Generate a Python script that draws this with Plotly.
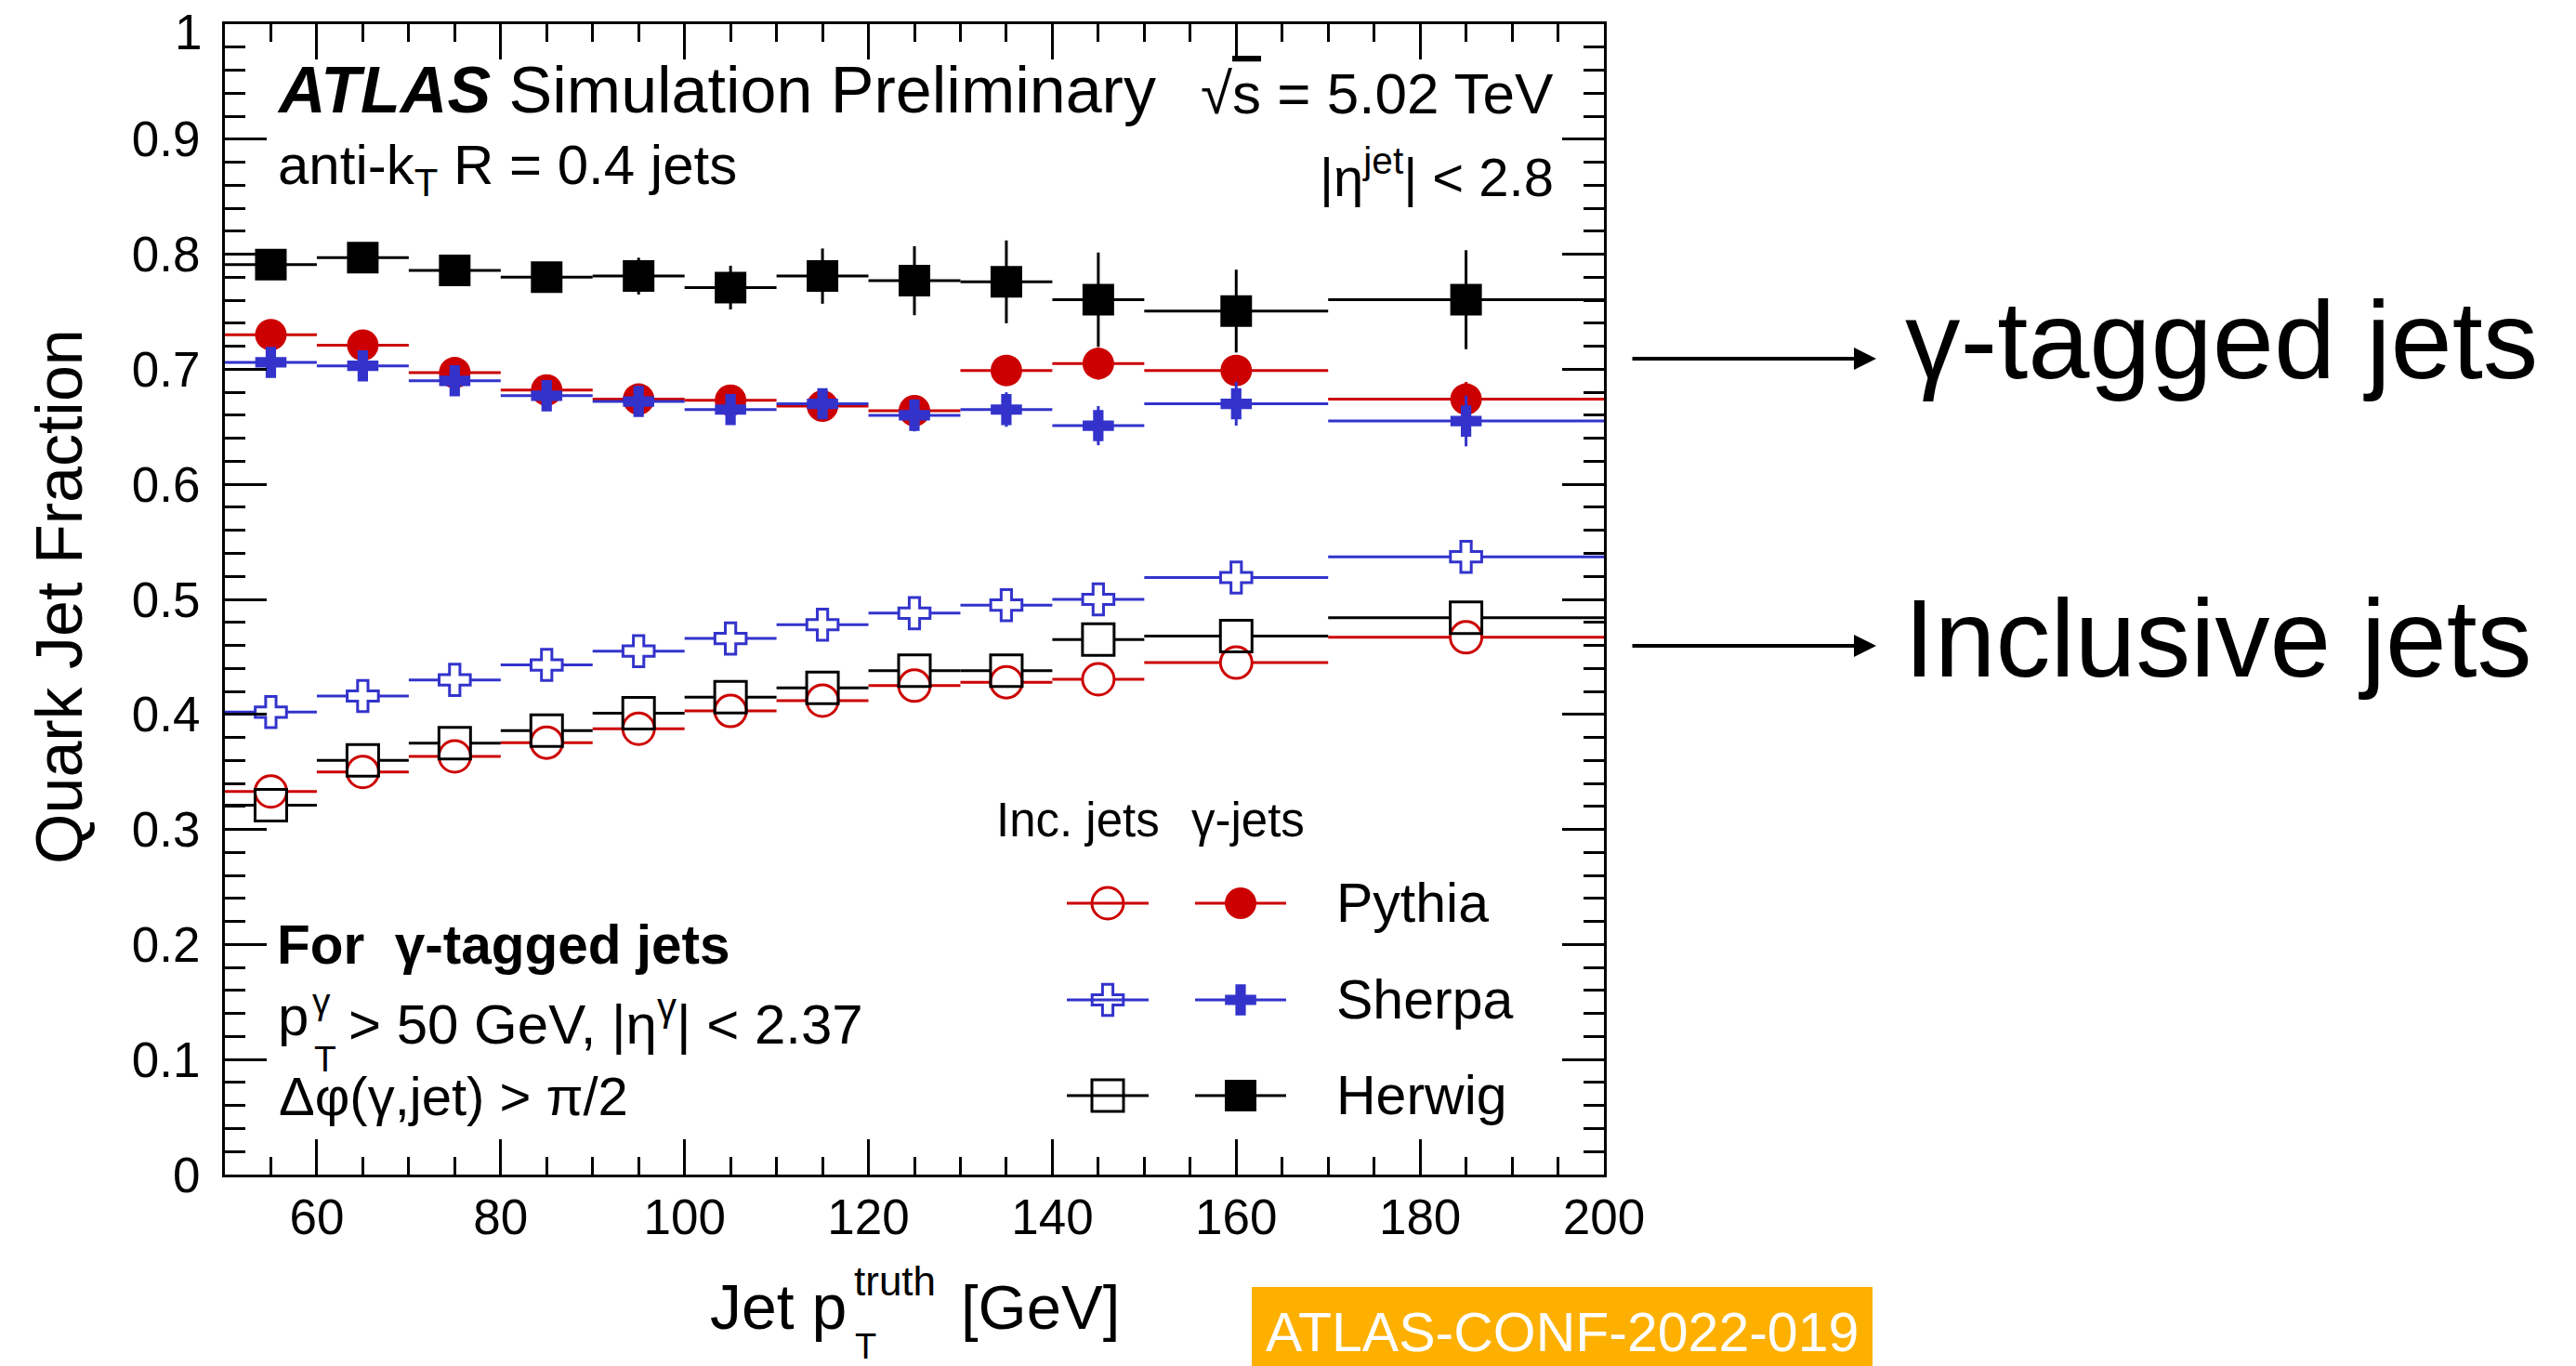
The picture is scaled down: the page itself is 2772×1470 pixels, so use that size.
import plotly.graph_objects as go

# ---------------- data ----------------
pt_centers = [55, 65, 75, 85, 95, 105, 115, 125, 135, 145, 160, 185]
pt_halfwidth = [5, 5, 5, 5, 5, 5, 5, 5, 5, 5, 10, 15]

# gamma-tagged jets (filled markers)
pythia_gamma = [0.730, 0.721, 0.697, 0.682, 0.674, 0.673, 0.668, 0.664, 0.699, 0.705, 0.699, 0.674]
pythia_gamma_err = [0.004, 0.004, 0.004, 0.005, 0.005, 0.006, 0.007, 0.008, 0.010, 0.014, 0.012, 0.015]
sherpa_gamma = [0.706, 0.703, 0.690, 0.677, 0.672, 0.665, 0.670, 0.660, 0.665, 0.651, 0.670, 0.655]
sherpa_gamma_err = [0.008, 0.008, 0.009, 0.010, 0.010, 0.011, 0.013, 0.014, 0.015, 0.017, 0.019, 0.022]
herwig_gamma = [0.791, 0.797, 0.786, 0.780, 0.781, 0.771, 0.781, 0.777, 0.776, 0.7605, 0.7506, 0.7605]
herwig_gamma_err = [0.006, 0.007, 0.009, 0.010, 0.016, 0.019, 0.024, 0.030, 0.036, 0.041, 0.036, 0.043]

# inclusive jets (open markers)
pythia_inc = [0.333, 0.350, 0.3635, 0.3755, 0.3875, 0.403, 0.412, 0.425, 0.428, 0.4305, 0.445, 0.467]
sherpa_inc = [0.402, 0.416, 0.430, 0.443, 0.455, 0.466, 0.478, 0.488, 0.495, 0.500, 0.519, 0.537]
herwig_inc = [0.321, 0.360, 0.375, 0.386, 0.401, 0.415, 0.423, 0.438, 0.438, 0.465, 0.468, 0.484]

x_tick_vals = [60, 80, 100, 120, 140, 160, 180, 200]
x_tick_text = ["60", "80", "100", "120", "140", "160", "180", "200"]
y_tick_vals = [0, 0.1, 0.2, 0.3, 0.4, 0.5, 0.6, 0.7, 0.8, 0.9, 1.0]
y_tick_text = ["0", "0.1", "0.2", "0.3", "0.4", "0.5", "0.6", "0.7", "0.8", "0.9", "1"]

generators = ["Pythia", "Sherpa", "Herwig"]

# ---------------- style / layout ----------------
W, H = 2772, 1470
PX_L, PX_R, PX_T, PX_B = 242, 1726, 26, 1264
FONT = "Liberation Sans, Arial, Helvetica, sans-serif"
RED = "#CC0000"
BLUE = "#3333CC"
BLACK = "#000000"
ORANGE = "#FDB000"
MARKER = 34
CROSS = 28
LW = 3
X_RANGE = [50, 200]
Y_RANGE = [0, 1]
GAP_PX = 17  # open-marker half size: error bars stop at the marker edge


def px(xp):
    return (xp - PX_L) / (PX_R - PX_L)


def py(yp):
    return (PX_B - yp) / (PX_B - PX_T)


gap = GAP_PX * (X_RANGE[1] - X_RANGE[0]) / (PX_R - PX_L)

fig = go.Figure()


def open_series(vals, color, symbol, size):
    xs, ys = [], []
    for c, h, v in zip(pt_centers, pt_halfwidth, vals):
        xs += [c - h, c - gap, None, c + gap, c + h, None]
        ys += [v, v, None, v, v, None]
    fig.add_trace(go.Scatter(x=xs, y=ys, mode="lines", line=dict(color=color, width=LW),
                             showlegend=False, hoverinfo="skip"))
    fig.add_trace(go.Scatter(x=pt_centers, y=vals, mode="markers",
                             marker=dict(symbol=symbol, size=size, color=color,
                                         line=dict(color=color, width=LW)),
                             showlegend=False))


def filled_series(vals, errs, color, symbol, size):
    fig.add_trace(go.Scatter(
        x=pt_centers, y=vals, mode="markers",
        marker=dict(symbol=symbol, size=size, color=color, line=dict(width=0)),
        error_x=dict(type="data", array=pt_halfwidth, symmetric=True, width=0, thickness=LW, color=color),
        error_y=dict(type="data", array=errs, symmetric=True, width=0, thickness=LW, color=color),
        showlegend=False))


open_series(pythia_inc, RED, "circle-open", MARKER)
open_series(sherpa_inc, BLUE, "cross-open", CROSS)
open_series(herwig_inc, BLACK, "square-open", MARKER)
filled_series(pythia_gamma, pythia_gamma_err, RED, "circle", MARKER)
filled_series(sherpa_gamma, sherpa_gamma_err, BLUE, "cross", CROSS)
filled_series(herwig_gamma, herwig_gamma_err, BLACK, "square", MARKER)

# ---------------- hand-made legend (overlay axis in paper fractions) ----------------
leg_rows_y = [972, 1076, 1179]
leg_open_x, leg_fill_x = 1192, 1335
leg_open_span = (1148, 1236)
leg_fill_span = (1286, 1384)
leg_styles = [(RED, "circle", MARKER), (BLUE, "cross", CROSS), (BLACK, "square", MARKER)]
for (color, sym, size), ry in zip(leg_styles, leg_rows_y):
    for (a, b) in (leg_open_span, leg_fill_span):
        fig.add_trace(go.Scatter(x=[px(a), px(b)], y=[py(ry), py(ry)], mode="lines",
                                 line=dict(color=color, width=LW), xaxis="x2", yaxis="y2",
                                 showlegend=False, hoverinfo="skip"))
    fig.add_trace(go.Scatter(x=[px(leg_open_x)], y=[py(ry)], mode="markers", xaxis="x2", yaxis="y2",
                             marker=dict(symbol=sym + "-open", size=size, color=color,
                                         line=dict(color=color, width=LW)),
                             showlegend=False, hoverinfo="skip"))
    fig.add_trace(go.Scatter(x=[px(leg_fill_x)], y=[py(ry)], mode="markers", xaxis="x2", yaxis="y2",
                             marker=dict(symbol=sym, size=size, color=color, line=dict(width=0)),
                             showlegend=False, hoverinfo="skip"))


def txt(text, x, y, size, xanchor="left", yanchor="middle", color="black", angle=0):
    return dict(text=text, x=px(x), y=py(y), xref="paper", yref="paper", xanchor=xanchor,
                yanchor=yanchor, showarrow=False, textangle=angle,
                font=dict(size=size, color=color, family=FONT))


ann = []
# top y tick label (drawn slightly below the frame edge, as in the reference)
ann.append(txt(y_tick_text[-1], 219, 34, 53, xanchor="right"))
# header texts
ann.append(txt("<b><i>ATLAS</i></b> Simulation Preliminary", 296, 97, 70))
ann.append(txt("√<span style=\"text-decoration:overline\">s</span> = 5.02 TeV", 1674, 100, 62, xanchor="right"))
ann.append(txt("anti-k<sub>T</sub> R = 0.4 jets", 297, 182, 60))
ann.append(txt("|η<sup>jet</sup>| < 2.8", 1674, 186, 58, xanchor="right"))
# bottom-left texts
ann.append(txt("<b>For\u00a0 γ-tagged jets</b>", 296, 1016, 58.5))
ann.append(txt("p", 297, 1093, 60))
ann.append(txt("γ", 334, 1077, 39))
ann.append(txt("T", 336, 1139, 39))
ann.append(txt("> 50 GeV, |η<sup>γ</sup>| < 2.37", 373, 1098, 60))
ann.append(txt("Δφ(γ,jet) > π/2", 298, 1179, 58))
# legend texts
ann.append(txt("Inc. jets", 1070, 882, 51))
ann.append(txt("γ-jets", 1280, 882, 51))
for name, ry in zip(generators, leg_rows_y):
    ann.append(txt(name, 1436, ry, 59))
# axis titles
ann.append(txt("Quark Jet Fraction", 64, 642, 70, xanchor="center", angle=-90))
ann.append(txt("Jet p", 762, 1406, 68))
ann.append(txt("truth", 917, 1378, 44))
ann.append(txt("T", 918, 1449, 38))
ann.append(txt("[GeV]", 1032, 1406, 67))
# slide annotations on the right
ann.append(txt("γ-tagged jets", 2048, 365, 119))
ann.append(txt("Inclusive jets", 2047, 687, 118))
for ay_px in (386, 695):
    ann.append(dict(x=px(2019), y=py(ay_px), xref="paper", yref="paper", ax=-264, ay=0,
                    text="", showarrow=True, arrowhead=2, arrowsize=1.2, arrowwidth=4,
                    arrowcolor="black", standoff=0))
ann.append(txt("ATLAS-CONF-2022-019", 1681, 1434, 59, xanchor="center", color="white"))

shapes = [dict(type="rect", xref="paper", yref="paper", x0=px(1347), x1=px(2015),
               y0=py(1470), y1=py(1385), fillcolor=ORANGE, line=dict(width=0), layer="below")]

fig.update_layout(
    width=W, height=H,
    margin=dict(l=PX_L, r=W - PX_R, t=PX_T, b=H - PX_B, pad=0, autoexpand=False),
    paper_bgcolor="white", plot_bgcolor="white",
    showlegend=False,
    font=dict(family=FONT, color="black", size=53),
    annotations=ann, shapes=shapes,
    xaxis=dict(range=X_RANGE, tickvals=x_tick_vals, ticktext=x_tick_text, automargin=False,
               ticks="inside", ticklen=38, tickwidth=2.5, tickcolor="black",
               minor=dict(dtick=5, tick0=0, ticks="inside", ticklen=19, tickwidth=2.5, tickcolor="black"),
               showline=True, linewidth=3, linecolor="black", mirror="ticks",
               showgrid=False, zeroline=False, tickfont=dict(size=53, family=FONT, color="black"),
               ticklabelstandoff=-3, ticklabeloverflow="allow"),
    yaxis=dict(range=Y_RANGE, tickvals=y_tick_vals, ticktext=y_tick_text[:-1] + [""], automargin=False,
               ticks="inside", ticklen=45, tickwidth=2.5, tickcolor="black",
               minor=dict(dtick=0.02, tick0=0, ticks="inside", ticklen=22, tickwidth=2.5, tickcolor="black"),
               showline=True, linewidth=3, linecolor="black", mirror="ticks",
               showgrid=False, zeroline=False, tickfont=dict(size=53, family=FONT, color="black"),
               ticklabelstandoff=13, ticklabeloverflow="allow"),
    xaxis2=dict(overlaying="x", range=[0, 1], visible=False, anchor="y2", automargin=False),
    yaxis2=dict(overlaying="y", range=[0, 1], visible=False, anchor="x2", automargin=False),
)

fig.write_html("out.html", config={"displayModeBar": False},
               post_script="document.body.style.margin='0';")
